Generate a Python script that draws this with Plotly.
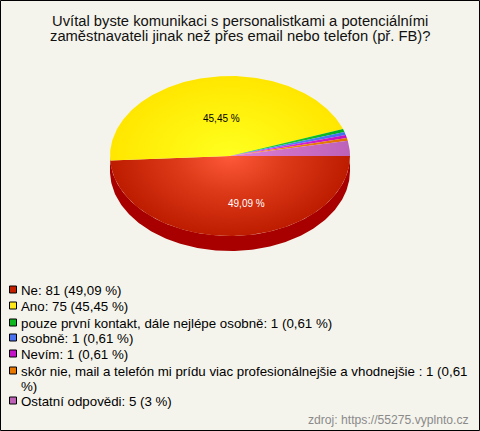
import numpy as np
import plotly.graph_objects as go

# --- data ---
title_lines = ["Uvítal byste komunikaci s personalistkami a potenciálními",
               "zaměstnavateli jinak než přes email nebo telefon (př. FB)?"]
categories = ["Ne", "Ano", "pouze první kontakt, dále nejlépe osobně", "osobně", "Nevím",
              "skôr nie, mail a telefón mi prídu viac profesionálnejšie a vhodnejšie ", "Ostatní odpovědi"]
counts = [81, 75, 1, 1, 1, 1, 5]
percent_labels = ["49,09 %", "45,45 %", "0,61 %", "0,61 %", "0,61 %", "0,61 %", "3 %"]
source = "zdroj: https://55275.vyplnto.cz"

# --- style ---
BG = "#F5F4EC"
inner = ["#FF5A3A", "#FFFF20", "#30E040", "#6090FF", "#F040F0", "#FF9A20", "#E080D8"]
mid = ["#DC3A18", "#FFF510", "#18C830", "#5080F8", "#D828D8", "#F08510", "#CE72C8"]
outer = ["#BE1C00", "#FFE600", "#00B020", "#4070F0", "#C010C0", "#E07000", "#BC62B8"]
swatch = ["#C42000", "#FFE81A", "#10B820", "#4A72F0", "#C414C8", "#E87800", "#BE62B8"]
FONT = "Liberation Sans, Arial, sans-serif"
CX, CY, RX, RY, DEPTH = 230, 156, 120, 80, 15

fig = go.Figure()
vals = np.array(counts, float)
edges = np.concatenate([[0], np.cumsum(vals) / vals.sum() * 2 * np.pi])

def ell(a):
    return CX + RX * np.cos(a), CY + RY * np.sin(a)

# side wall of the visible front half (Ne slice)
a = np.linspace(0, np.pi, 200)
ex, ey = ell(a)
fig.add_trace(go.Scatter(x=np.r_[ex, ex[::-1]], y=np.r_[ey + DEPTH, ey[::-1]], mode="lines",
                         fill="toself", fillcolor="#A80000", line=dict(width=0),
                         hoverinfo="skip", showlegend=False))

# pie top face
for i, c in enumerate(categories):
    a = np.linspace(edges[i], edges[i + 1], max(3, int((edges[i + 1] - edges[i]) * 60)))
    ex, ey = ell(a)
    # zero-area spokes keep each slice's gradient box equal to the whole ellipse
    sx = [CX, CX - RX, CX, CX + RX, CX, CX, CX, CX, CX]
    sy = [CY, CY, CY, CY, CY, CY - RY, CY, CY + RY, CY]
    fig.add_trace(go.Scatter(
        x=np.r_[sx, ex, CX], y=np.r_[sy, ey, CY], mode="lines", fill="toself",
        line=dict(width=0), name=c, hoverinfo="skip", showlegend=False,
        fillgradient=dict(type="radial", colorscale=[[0, inner[i]], [0.45, mid[i]], [1, outer[i]]])))

ann = []
def text(x, y, t, size, color="#000000", xanchor="left"):
    ann.append(dict(x=x, y=y, text=t, showarrow=False, xanchor=xanchor, yanchor="middle", xref="x", yref="y",
                    borderpad=0, font=dict(family=FONT, size=size, color=color)))

text(239.5, 20.5, title_lines[0], 14.75, "#111111", "center")
text(239.5, 35.5, title_lines[1], 14.75, "#111111", "center")
text(221.5, 118, percent_labels[1], 10, "#000000", "center")
text(246.5, 203, percent_labels[0], 10, "#FFFFFF", "center")

rows = [290, 306, 323, 338, 354, 371, 401]
for i, c in enumerate(categories):
    t = f"{c}: {counts[i]} ({percent_labels[i]})"
    if i == 5:
        t1, t2 = t.rsplit(" ", 1)
        text(20, rows[i], t1, 13.3)
        text(20, rows[i] + 15, t2, 13.3)
    else:
        text(20, rows[i], t, 13.3)
fig.add_trace(go.Scatter(x=[13] * len(rows), y=[r - 0.5 for r in rows], mode="markers", hoverinfo="skip", showlegend=False,
                         marker=dict(symbol="square", size=7, color=swatch, line=dict(color="#000000", width=1))))
text(470, 420, source, 12.15, "#8A8A8A", "right")

fig.update_layout(
    width=480, height=431, margin=dict(l=0, r=0, t=0, b=0), autosize=False,
    paper_bgcolor=BG, plot_bgcolor=BG, annotations=ann, showlegend=False,
    xaxis=dict(range=[0, 480], visible=False, fixedrange=True),
    yaxis=dict(range=[431, 0], visible=False, fixedrange=True),
    shapes=[dict(type="rect", xref="x", yref="y", x0=0.5, y0=0.5, x1=479.5, y1=430.5,
                 line=dict(color="#000000", width=1))],
)
fig.write_html("out.html", config={"displayModeBar": False},
               post_script="document.body.style.margin='0';document.body.style.overflow='hidden';")
